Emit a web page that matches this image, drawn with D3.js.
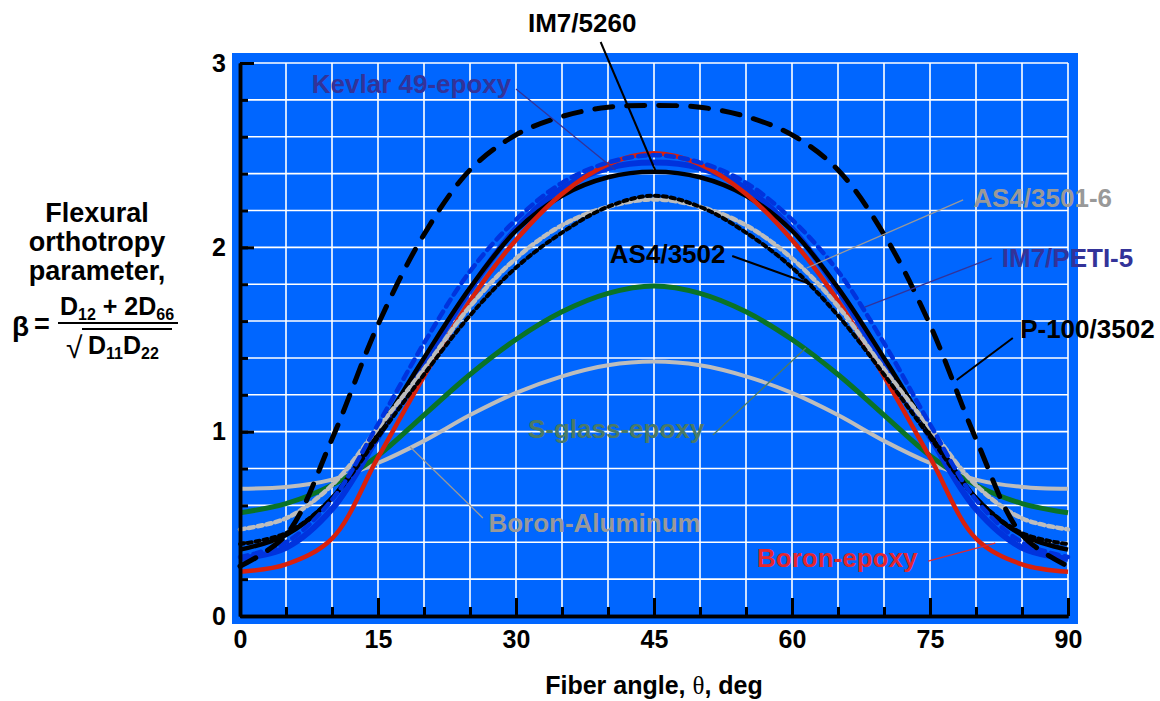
<!DOCTYPE html>
<html>
<head>
<meta charset="utf-8">
<script src="https://cdn.jsdelivr.net/npm/d3@7"></script>
<style>
  body { margin: 0; background: #fff; }
  svg { font-family: "Liberation Sans", Arial, Helvetica, sans-serif; font-weight: bold; }
</style>
</head>
<body>
<script>
// fiber angle, deg
var angles = [0, 5, 10, 15, 20, 25, 30, 35, 40, 45, 50, 55, 60, 65, 70, 75, 80, 85, 90];

// beta values, one array per material
var p100_3502   = [0.27, 0.44, 0.96, 1.58, 2.07, 2.42, 2.61, 2.71, 2.76, 2.77, 2.76, 2.71, 2.61, 2.42, 2.07, 1.58, 0.96, 0.44, 0.27];
var im7_5260    = [0.36, 0.44, 0.64, 1.00, 1.40, 1.78, 2.09, 2.28, 2.38, 2.41, 2.38, 2.28, 2.09, 1.78, 1.40, 1.00, 0.64, 0.44, 0.36];
var kevlar49    = [0.31, 0.37, 0.58, 0.97, 1.37, 1.77, 2.10, 2.32, 2.43, 2.46, 2.43, 2.32, 2.10, 1.77, 1.37, 0.97, 0.58, 0.37, 0.31];
var im7_peti5   = [0.32, 0.40, 0.63, 1.04, 1.48, 1.87, 2.15, 2.35, 2.46, 2.50, 2.46, 2.35, 2.15, 1.87, 1.48, 1.04, 0.63, 0.40, 0.32];
var boronEpoxy  = [0.24, 0.28, 0.42, 0.86, 1.30, 1.71, 2.04, 2.29, 2.45, 2.51, 2.45, 2.29, 2.04, 1.71, 1.30, 0.86, 0.42, 0.28, 0.24];
var as4_3502    = [0.39, 0.45, 0.64, 0.97, 1.31, 1.63, 1.89, 2.08, 2.22, 2.28, 2.22, 2.08, 1.89, 1.63, 1.31, 0.97, 0.64, 0.45, 0.39];
var as4_3501    = [0.47, 0.53, 0.71, 1.02, 1.34, 1.68, 1.94, 2.12, 2.22, 2.26, 2.22, 2.12, 1.94, 1.68, 1.34, 1.02, 0.71, 0.53, 0.47];
var sGlass      = [0.56, 0.61, 0.71, 0.87, 1.09, 1.31, 1.50, 1.65, 1.75, 1.79, 1.75, 1.65, 1.50, 1.31, 1.09, 0.87, 0.71, 0.61, 0.56];
var boronAl     = [0.69, 0.70, 0.74, 0.83, 0.95, 1.09, 1.21, 1.30, 1.36, 1.38, 1.36, 1.30, 1.21, 1.09, 0.95, 0.83, 0.74, 0.70, 0.69];

var xTickLabels = [0, 15, 30, 45, 60, 75, 90];
var yTickLabels = [0, 1, 2, 3];

var svg = d3.select("body").append("svg")
	.attr("width", 1160)
	.attr("height", 701);

// set the ranges
var x = d3.scaleLinear().domain([0, 90]).range([240, 1068]);
var y = d3.scaleLinear().domain([0, 3]).range([616, 63]);

// blue plot background
svg.append("rect")
	.attr("x", 232).attr("y", 53)
	.attr("width", 846).attr("height", 571)
	.attr("fill", "#0066ff");

// white grid, every 5 deg and every 0.2
svg.append("g").selectAll("line")
	.data(d3.range(5, 91, 5))
	.join("line")
	.attr("x1", d => x(d)).attr("x2", d => x(d))
	.attr("y1", y(0)).attr("y2", y(3))
	.attr("stroke", "#fff").attr("stroke-width", 1.6);
svg.append("g").selectAll("line")
	.data(d3.range(1, 16).map(i => i * 0.2))
	.join("line")
	.attr("x1", x(0)).attr("x2", x(90))
	.attr("y1", d => y(d)).attr("y2", d => y(d))
	.attr("stroke", "#fff").attr("stroke-width", 1.6);

// the curves, bottom to top
var series = [
	{ values: boronAl,    color: "#bdbdbd", width: 4,   dash: null },
	{ values: sGlass,     color: "#0a7326", width: 5,   dash: null },
	{ values: kevlar49,   color: "#0033dd", width: 6,   dash: null },
	{ values: im7_5260,   color: "#000",    width: 4.5, dash: null },
	{ values: boronEpoxy, color: "#d8200c", width: 4.5, dash: null },
	{ values: as4_3501,   color: "#bdbdbd", width: 4.5, dash: "5,4" },
	{ values: as4_3502,   color: "#000",    width: 4,   dash: "4,4" },
	{ values: im7_peti5,  color: "#0033dd", width: 4.5, dash: "8,6" },
	{ values: p100_3502,  color: "#000",    width: 5,   dash: "18,14" }
];

var line = d3.line()
	.x((d, i) => x(angles[i]))
	.y(d => y(d))
	.curve(d3.curveCatmullRom.alpha(0.5));

svg.append("g").selectAll("path")
	.data(series)
	.join("path")
	.attr("d", d => line(d.values))
	.attr("fill", "none")
	.attr("stroke", d => d.color)
	.attr("stroke-width", d => d.width)
	.attr("stroke-dasharray", d => d.dash)
	.attr("stroke-linecap", d => d.dash ? "round" : "butt");

// axes, ticks point into the plot
function styleAxis(g) {
	g.select(".domain").attr("stroke", "#000").attr("stroke-width", 3.5);
	g.selectAll(".tick line").attr("stroke", "#000").attr("stroke-width", 3);
	g.selectAll("text").attr("fill", "#000")
		.style("font-size", "25px").style("font-weight", "bold")
		.style("font-family", "'Liberation Sans', Arial, sans-serif");
}

svg.append("g")
	.attr("transform", "translate(" + x(0) + ",0)")
	.call(d3.axisLeft(y).tickValues(d3.range(0, 16).map(i => i * 0.2)).tickSize(-8).tickSizeOuter(0).tickFormat(""))
	.call(styleAxis);
svg.append("g")
	.attr("transform", "translate(" + x(0) + ",0)")
	.call(d3.axisLeft(y).tickValues(yTickLabels).tickSize(-14).tickSizeOuter(0).tickPadding(14).tickFormat(d3.format("d")))
	.call(styleAxis);

svg.append("g")
	.attr("transform", "translate(0," + y(0) + ")")
	.call(d3.axisBottom(x).tickValues(d3.range(0, 91, 5)).tickSize(-9).tickSizeOuter(0).tickFormat(""))
	.call(styleAxis);
svg.append("g")
	.attr("transform", "translate(0," + y(0) + ")")
	.call(d3.axisBottom(x).tickValues(xTickLabels).tickSize(-18).tickSizeOuter(0).tickPadding(14).tickFormat(d3.format("d")))
	.call(styleAxis);

// x-axis title
var xt = svg.append("text")
	.attr("x", x(45)).attr("y", 694)
	.attr("text-anchor", "middle")
	.style("font-size", "25px");
xt.append("tspan").text("Fiber angle, ");
xt.append("tspan").style("font-family", "'Liberation Serif', 'Times New Roman', serif").style("font-weight", "normal").text("θ");
xt.append("tspan").text(", deg");

// y-axis title with the formula
var ytitle = ["Flexural", "orthotropy", "parameter,"];
svg.append("g").selectAll("text")
	.data(ytitle)
	.join("text")
	.attr("x", 97).attr("y", (d, i) => 222 + i * 29)
	.attr("text-anchor", "middle")
	.style("font-size", "27px")
	.text(d => d);

svg.append("text").attr("x", 12).attr("y", 336).style("font-size", "28px").text("β");
svg.append("text").attr("x", 34).attr("y", 333).style("font-size", "27px").text("=");
svg.append("line")
	.attr("x1", 58).attr("x2", 178).attr("y1", 323).attr("y2", 323)
	.attr("stroke", "#000").attr("stroke-width", 2);
var num = svg.append("text").attr("x", 117).attr("y", 315).attr("text-anchor", "middle").style("font-size", "25px");
num.append("tspan").text("D");
num.append("tspan").attr("dy", 5).style("font-size", "16px").text("12");
num.append("tspan").attr("dy", -5).text(" + 2D");
num.append("tspan").attr("dy", 5).style("font-size", "16px").text("66");

svg.append("text").attr("x", 66).attr("y", 358).style("font-size", "30px").style("font-weight", "normal").text("√");
svg.append("line")
	.attr("x1", 82).attr("x2", 172).attr("y1", 329).attr("y2", 329)
	.attr("stroke", "#000").attr("stroke-width", 1.8);
var den = svg.append("text").attr("x", 88).attr("y", 354).style("font-size", "25px");
den.append("tspan").text("D");
den.append("tspan").attr("dy", 5).style("font-size", "16px").text("11");
den.append("tspan").attr("dy", -5).text("D");
den.append("tspan").attr("dy", 5).style("font-size", "16px").text("22");

// curve labels with leader lines (in data coordinates)
var labels = [
	{ text: "IM7/5260",        color: "#000",    lx: 31.3, ly: 3.17,  x1: 39.2, y1: 3.114, x2: 45.2, y2: 2.41 },
	{ text: "Kevlar 49-epoxy", color: "#333399", lx: 7.8,  ly: 2.837, x1: 30.0, y1: 2.859, x2: 40.8, y2: 2.42 },
	{ text: "AS4/3501-6",      color: "#999999", lx: 79.7, ly: 2.219, x1: 78.6, y1: 2.257, x2: 61.6, y2: 1.888 },
	{ text: "AS4/3502",        color: "#000",    lx: 40.2, ly: 1.915, x1: 53.5, y1: 1.953, x2: 62.3, y2: 1.796 },
	{ text: "IM7/PETI-5",      color: "#333399", lx: 82.8, ly: 1.893, x1: 81.7, y1: 1.942, x2: 67.9, y2: 1.676 },
	{ text: "P-100/3502",      color: "#000",    lx: 84.8, ly: 1.508, x1: 84.0, y1: 1.508, x2: 77.9, y2: 1.280 },
	{ text: "S-glass-epoxy",   color: "#4a7a66", lx: 31.3, ly: 0.966, x1: 51.4, y1: 0.982, x2: 61.5, y2: 1.454 },
	{ text: "Boron-Aluminum",  color: "#999999", lx: 27.0, ly: 0.456, x1: 26.4, y1: 0.532, x2: 18.5, y2: 0.917 },
	{ text: "Boron-epoxy",     color: "#e3262f", lx: 56.2, ly: 0.266, x1: 74.8, y1: 0.298, x2: 82.1, y2: 0.396 }
];

svg.append("g").selectAll("line")
	.data(labels)
	.join("line")
	.attr("x1", d => x(d.x1)).attr("y1", d => y(d.y1))
	.attr("x2", d => x(d.x2)).attr("y2", d => y(d.y2))
	.attr("stroke", d => d.color)
	.attr("stroke-width", d => d.color == "#000" ? 2 : 1.3);

svg.append("g").selectAll("text")
	.data(labels)
	.join("text")
	.attr("x", d => x(d.lx)).attr("y", d => y(d.ly))
	.attr("fill", d => d.color)
	.style("font-size", "26px")
	.text(d => d.text);
</script>
</body>
</html>
